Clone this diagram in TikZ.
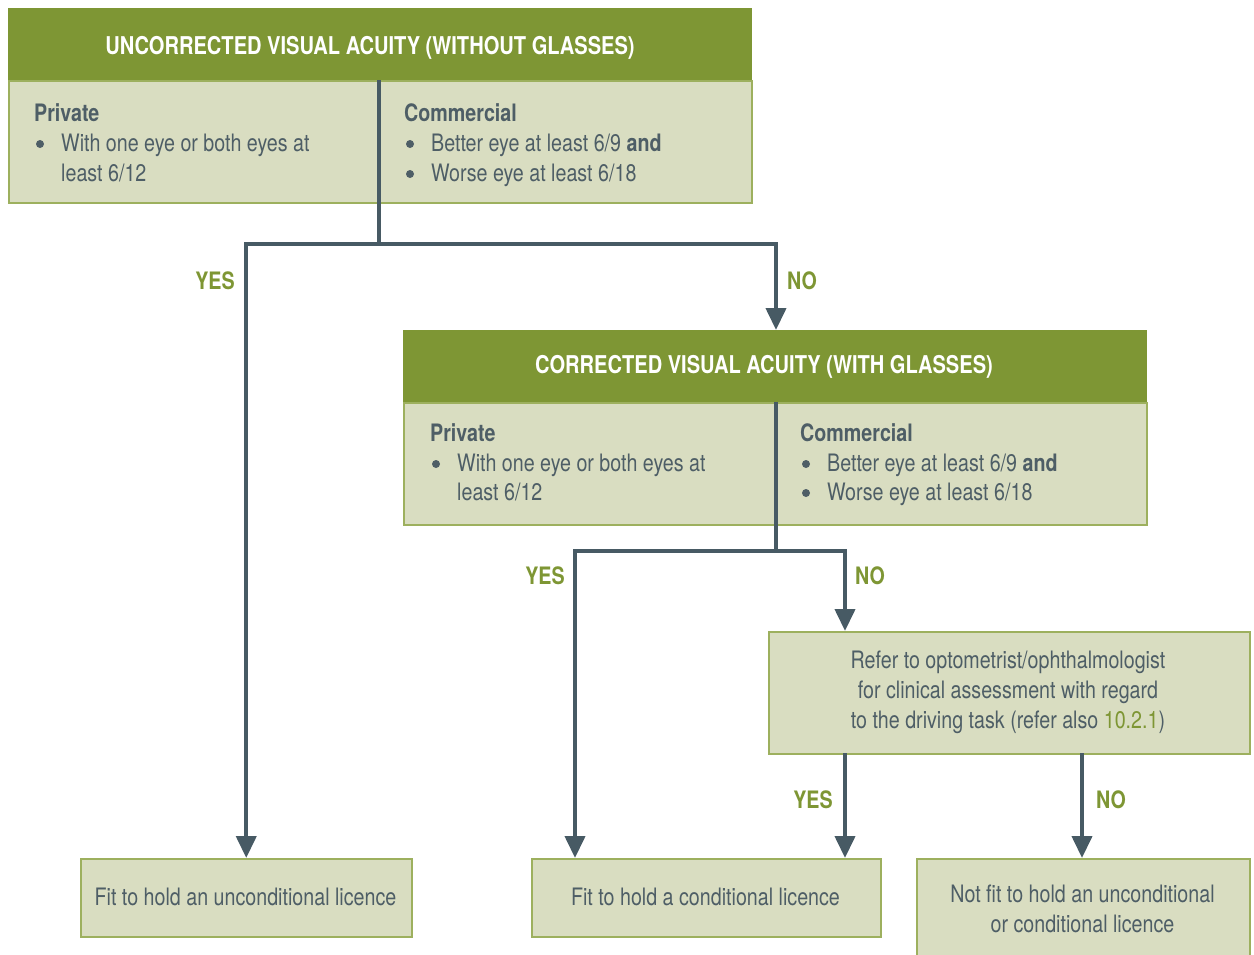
\documentclass[tikz,border=0pt]{standalone}
\usepackage{fontspec}
\setmainfont{TeX Gyre Heros}[FakeStretch=0.82]
\usetikzlibrary{arrows.meta}
\definecolor{hgreen}{HTML}{7E9634}
\definecolor{lfill}{HTML}{D9DDC1}
\definecolor{lborder}{HTML}{9DB05E}
\definecolor{slate}{HTML}{475A64}
\definecolor{txt}{HTML}{4E5E66}
\tikzset{
  hbox/.style={fill=hgreen, draw=hgreen, line width=1pt, anchor=north west, inner sep=0pt},
  lbox/.style={fill=lfill, draw=lborder, line width=1.5pt, anchor=north west, inner sep=0pt},
  htext/.style={text=white, font=\fontsize{24.5}{30}\selectfont\bfseries, anchor=base, inner sep=0pt},
  btext/.style={text=txt, font=\fontsize{24}{30}\selectfont, anchor=base west, inner sep=0pt},
  ctext/.style={text=txt, font=\fontsize{24}{30}\selectfont, align=center, inner sep=0pt},
  lbl/.style={text=hgreen, font=\fontsize{24}{30}\selectfont\bfseries, inner sep=0pt},
  dot/.style={circle, fill=txt, inner sep=0pt, minimum size=8pt},
  conn/.style={draw=slate, line width=4pt},
  arr/.style={conn, -{Triangle[width=20pt,length=22pt]}},
}
\begin{document}
\begin{tikzpicture}[x=1pt,y=-1pt]
\useasboundingbox (0,0) rectangle (1254,954);
% ---- box 1 ----
\node[hbox, minimum width=743pt, minimum height=72pt] (h1) at (8,8) {};
\node[lbox, minimum width=743pt, minimum height=122pt] (b1) at (8,80) {};
\node[htext] (t1) at (370,54) {UNCORRECTED VISUAL ACUITY (WITHOUT GLASSES)};
\node[btext] (p1) at (34,121) {\bfseries Private};
\node[dot] (p1a) at (40,144) {};
\node[btext] (p1b) at (61,151) {With one eye or both eyes at};
\node[btext] (p1c) at (61,181) {least 6/12};
\node[btext] (c1) at (404,121) {\bfseries Commercial};
\node[dot] (c1a) at (410,144) {};
\node[btext] (c1b) at (431,151) {Better eye at least 6/9 \textbf{and}};
\node[dot] (c1c) at (410,174) {};
\node[btext] (c1d) at (431,181) {Worse eye at least 6/18};
% ---- box 2 ----
\node[hbox, minimum width=743pt, minimum height=72pt] (h2) at (403,330) {};
\node[lbox, minimum width=743pt, minimum height=122pt] (b2) at (403,402) {};
\node[htext] (t2) at (764,373) {CORRECTED VISUAL ACUITY (WITH GLASSES)};
\node[btext] (p2) at (430,441) {\bfseries Private};
\node[dot] (p2a) at (436,464) {};
\node[btext] (p2b) at (457,471) {With one eye or both eyes at};
\node[btext] (p2c) at (457,500) {least 6/12};
\node[btext] (c2) at (800,441) {\bfseries Commercial};
\node[dot] (c2a) at (806,464) {};
\node[btext] (c2b) at (827,471) {Better eye at least 6/9 \textbf{and}};
\node[dot] (c2c) at (806,493) {};
\node[btext] (c2d) at (827,500) {Worse eye at least 6/18};
% ---- box 3 ----
\node[lbox, minimum width=481pt, minimum height=122pt] (b3) at (768,631) {};
\node[ctext] (t3) at (1008,692) {Refer to optometrist/ophthalmologist\\for clinical assessment with regard\\to the driving task (refer also \textcolor{hgreen}{10.2.1})};
% ---- outcome boxes ----
\node[lbox, minimum width=331pt, minimum height=78pt] (r4) at (80,858) {};
\node[ctext] (t4) at (245.5,897) {Fit to hold an unconditional licence};
\node[lbox, minimum width=349pt, minimum height=78pt] (r5) at (531,858) {};
\node[ctext] (t5) at (705.5,897) {Fit to hold a conditional licence};
\node[lbox, minimum width=333pt, minimum height=110pt] (r6) at (916,858) {};
\node[ctext] (t6) at (1082.5,909) {Not fit to hold an unconditional\\or conditional licence};
% ---- connectors ----
\coordinate (d1) at (379,80);
\coordinate (j1) at (379,244);
\coordinate (d2) at (776,402);
\coordinate (j2) at (776,551);
\coordinate (a2) at (776,330);
\coordinate (a5l) at (575,858);
\coordinate (a3) at (845,631);
\coordinate (s3l) at (845,753);
\coordinate (a5r) at (845,858);
\coordinate (s3r) at (1082,753);
\coordinate (a6) at (1082,858);
\draw[conn] (d1) -- (j1);
\draw[arr] (j1) -| (r4.north);
\draw[arr] (j1) -| (a2);
\draw[conn] (d2) -- (j2);
\draw[arr] (j2) -| (a5l);
\draw[arr] (j2) -| (a3);
\draw[arr] (s3l) -- (a5r);
\draw[arr] (s3r) -- (a6);
% ---- labels ----
\node[lbl] (y1) at (215,281) {YES};
\node[lbl] (n1) at (802,281) {NO};
\node[lbl] (y2) at (545,576) {YES};
\node[lbl] (n2) at (870,576) {NO};
\node[lbl] (y3) at (813,800) {YES};
\node[lbl] (n3) at (1111,800) {NO};
\end{tikzpicture}
\end{document}
